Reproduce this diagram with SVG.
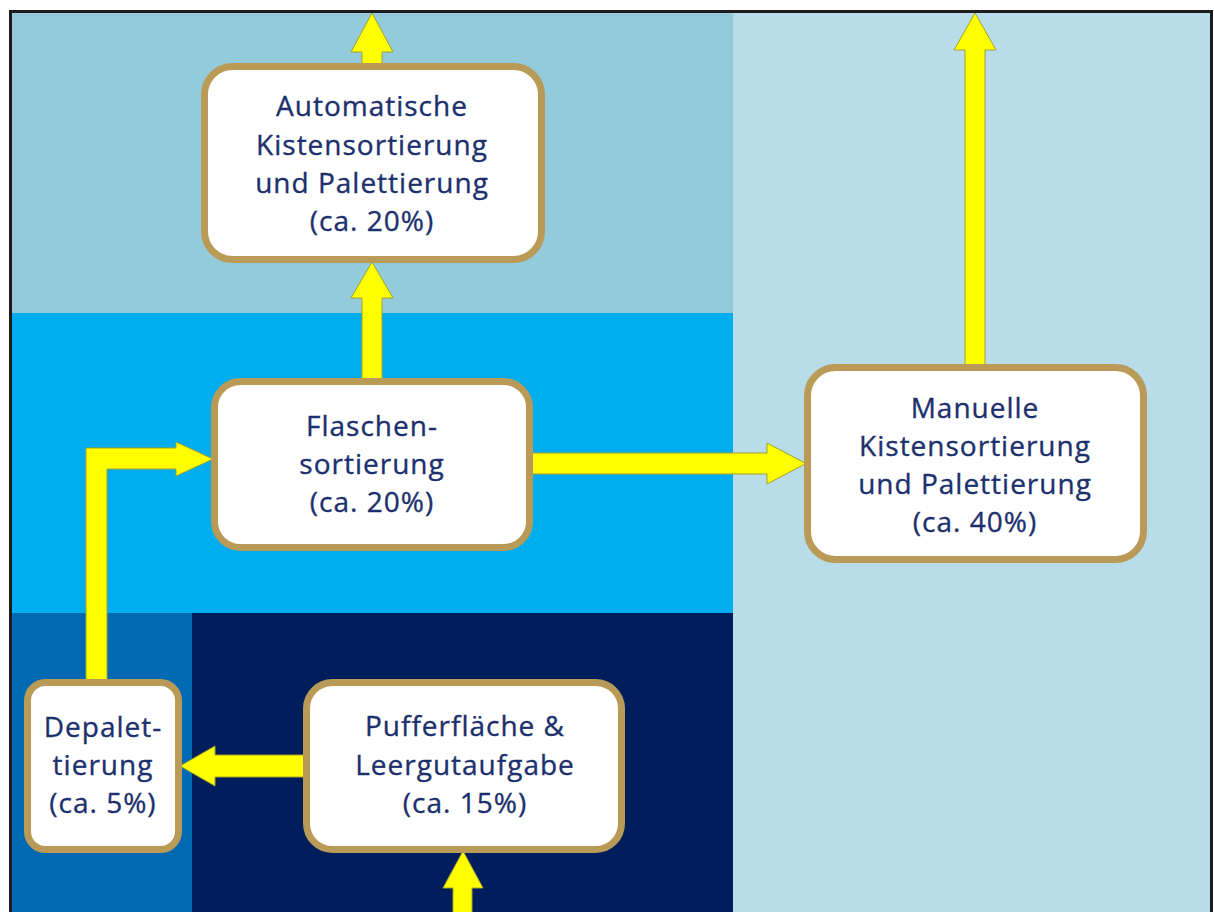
<svg xmlns="http://www.w3.org/2000/svg" width="1214" height="912" viewBox="0 0 1214 912">
<style>
.box{fill:#ffffff;stroke:#b99b57;stroke-width:7}
.arr{fill:#ffff00;stroke:#a3a32a;stroke-width:1;stroke-linejoin:miter}
.t{font-family:"Open Sans","Noto Sans",sans-serif;font-size:28px;fill:#1c306d;stroke:#1c306d;stroke-width:0.35px;text-anchor:middle;letter-spacing:1px}
</style>
<rect x="0" y="0" width="1214" height="912" fill="#ffffff"/>
<g id="background">
<rect x="12" y="13" width="721" height="300" fill="#94cbdb"/>
<rect x="733" y="13" width="479" height="899" fill="#b8dde8"/>
<rect x="12" y="313" width="721" height="300" fill="#00aeef"/>
<rect x="12" y="613" width="180" height="299" fill="#0069b4"/>
<rect x="192" y="613" width="541" height="299" fill="#001e5b"/>
<rect x="10.5" y="11.5" width="1201" height="930" fill="none" stroke="#1c1c1c" stroke-width="3"/>
</g>
<g id="connectors">
<polygon class="arr" points="372,13 393,52 382,52 382,68 362,68 362,52 351,52"/>
<polygon class="arr" points="372,262 393,298 382,298 382,382 362,382 362,298 351,298"/>
<polygon class="arr" points="975,13 996,50 985,50 985,369 965,369 965,50 954,50"/>
<polygon class="arr" points="528,453 767,453 767,443 806,463.5 767,484 767,474 528,474"/>
<polygon class="arr" points="86,684 86,448 176,448 176,442 213,459 176,476 176,469 107,469 107,684"/>
<polygon class="arr" points="308,755 215,755 215,746 180,766 215,786 215,777 308,777"/>
<polygon class="arr" points="463,851 483,888 472,888 472,913 453,913 453,888 443,888"/>
</g>
<g id="node-automatische">
<rect class="box" x="204.5" y="66.5" width="337" height="193" rx="28"/>
<text class="t" x="372" y="116">Automatische</text>
<text class="t" x="372" y="154.5">Kistensortierung</text>
<text class="t" x="372" y="193">und Palettierung</text>
<text class="t" x="372" y="231">(ca. 20%)</text>
</g>
<g id="node-flaschen">
<rect class="box" x="214.5" y="381.5" width="315" height="166" rx="26"/>
<text class="t" x="372" y="436">Flaschen-</text>
<text class="t" x="372" y="474">sortierung</text>
<text class="t" x="372" y="512">(ca. 20%)</text>
</g>
<g id="node-manuelle">
<rect class="box" x="807.5" y="367.5" width="336" height="192" rx="28"/>
<text class="t" x="975" y="418">Manuelle</text>
<text class="t" x="975" y="456">Kistensortierung</text>
<text class="t" x="975" y="494">und Palettierung</text>
<text class="t" x="975" y="532">(ca. 40%)</text>
</g>
<g id="node-depalettierung">
<rect class="box" x="27.5" y="682.5" width="151" height="167" rx="18"/>
<text class="t" x="103" y="737">Depalet-</text>
<text class="t" x="103" y="775">tierung</text>
<text class="t" x="103" y="813">(ca. 5%)</text>
</g>
<g id="node-puffer">
<rect class="box" x="306.5" y="682.5" width="315" height="167" rx="26"/>
<text class="t" x="465" y="736">Pufferfläche &amp;</text>
<text class="t" x="465" y="775">Leergutaufgabe</text>
<text class="t" x="465" y="813">(ca. 15%)</text>
</g>
</svg>
